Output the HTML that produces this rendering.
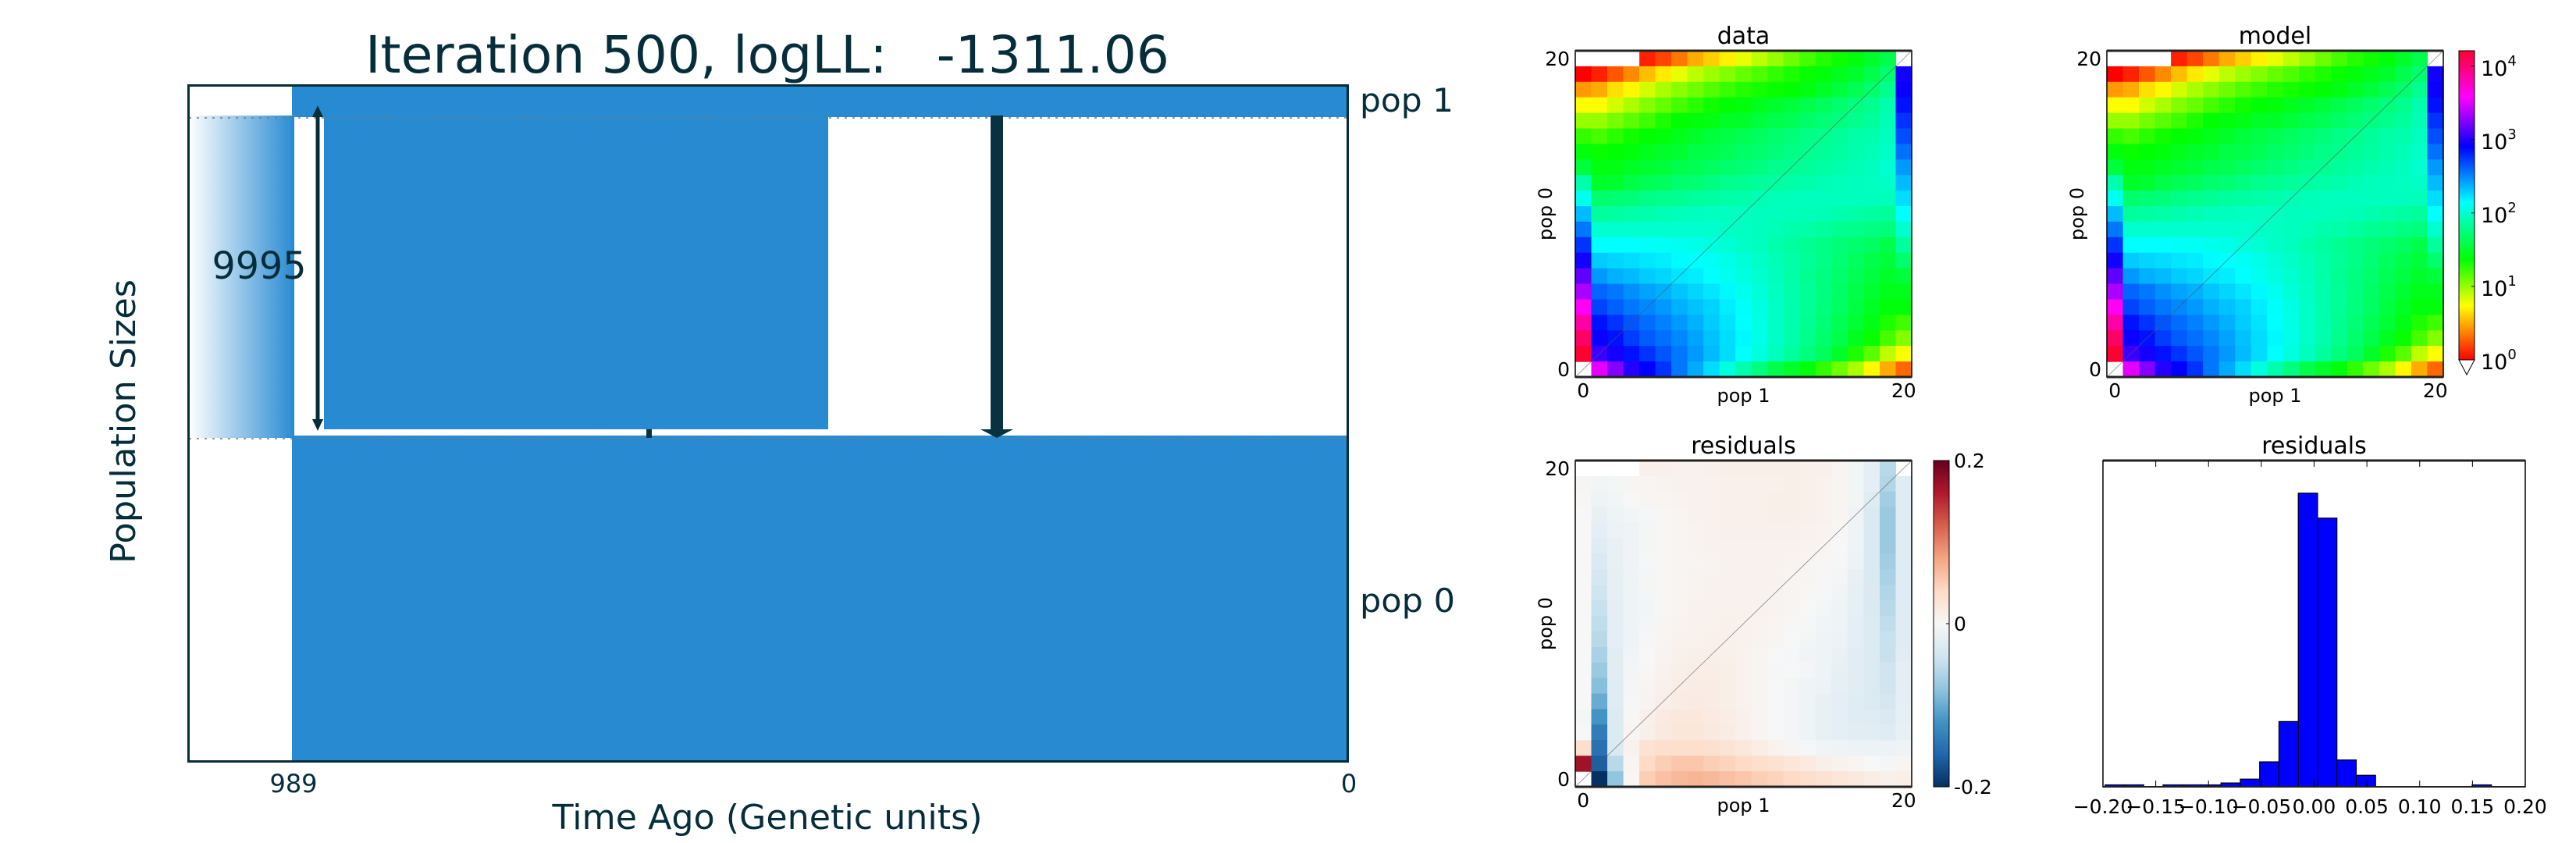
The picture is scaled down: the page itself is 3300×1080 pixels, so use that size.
<!DOCTYPE html>
<html><head><meta charset="utf-8">
<style>
html,body{margin:0;padding:0;background:#fff;}
svg{display:block;font-family:"DejaVu Sans","Liberation Sans",sans-serif;}
</style></head>
<body>
<svg id="fig" xmlns="http://www.w3.org/2000/svg" width="3300" height="1080" viewBox="0 0 3300 1080">
<defs>
<linearGradient id="ghost" x1="0" y1="0" x2="1" y2="0">
<stop offset="0" stop-color="#ffffff"/><stop offset="1" stop-color="#288bd2"/>
</linearGradient>
<linearGradient id="rainbow" x1="0" y1="1" x2="0" y2="0">
<stop offset="0" stop-color="#ff0000"/>
<stop offset="0.175" stop-color="#ffff00"/>
<stop offset="0.325" stop-color="#00ff00"/>
<stop offset="0.51" stop-color="#00ffff"/>
<stop offset="0.69" stop-color="#0000ff"/>
<stop offset="0.85" stop-color="#ff00ff"/>
<stop offset="1" stop-color="#ff0030"/>
</linearGradient>
<linearGradient id="rdbu" x1="0" y1="1" x2="0" y2="0">
<stop offset="0" stop-color="#053061"/><stop offset="0.1" stop-color="#2166ac"/>
<stop offset="0.2" stop-color="#4393c3"/><stop offset="0.3" stop-color="#92c5de"/>
<stop offset="0.4" stop-color="#d1e5f0"/><stop offset="0.5" stop-color="#f7f7f7"/>
<stop offset="0.6" stop-color="#fddbc7"/><stop offset="0.7" stop-color="#f4a582"/>
<stop offset="0.8" stop-color="#d6604d"/><stop offset="0.9" stop-color="#b2182b"/>
<stop offset="1" stop-color="#67001f"/>
</linearGradient>
</defs>

<!-- LEFT: demography -->
<g>
<text x="983" y="93" font-size="66" fill="#062d3a" text-anchor="middle" textLength="1030" lengthAdjust="spacingAndGlyphs" xml:space="preserve">Iteration 500, logLL:   -1311.06</text>
<rect x="242" y="148" width="135" height="413" fill="url(#ghost)"/>
<rect x="374" y="108" width="1354" height="42" fill="#288bd2"/>
<rect x="415" y="150" width="646" height="400" fill="#288bd2"/>
<rect x="374" y="558" width="1354" height="419" fill="#288bd2"/>
<rect x="374" y="108" width="3" height="450" fill="#288bd2"/>
<line x1="242" y1="151" x2="1728" y2="151" stroke="#777" stroke-width="1.5" stroke-dasharray="3,7"/>
<line x1="242" y1="562" x2="1728" y2="562" stroke="#777" stroke-width="1.5" stroke-dasharray="3,7"/>
<line x1="407" y1="148" x2="407" y2="540" stroke="#062d3a" stroke-width="5"/>
<polygon points="407,135 400,150 414,150" fill="#062d3a"/>
<polygon points="407,552 400,537 414,537" fill="#062d3a"/>
<text x="332" y="357" font-size="48" fill="#062d3a" text-anchor="middle" textLength="121" lengthAdjust="spacingAndGlyphs">9995</text>
<rect x="1269" y="148" width="16" height="404" fill="#08323f"/>
<polygon points="1256,550 1298,550 1277,561" fill="#08323f"/>
<rect x="828" y="550" width="7" height="11" fill="#08323f"/>
<rect x="241.5" y="109.5" width="1485" height="866" fill="none" stroke="#062d3a" stroke-width="3"/>
<text x="1742" y="143" font-size="42" fill="#062d3a" textLength="120" lengthAdjust="spacingAndGlyphs">pop 1</text>
<text x="1742" y="784" font-size="42" fill="#062d3a" textLength="122" lengthAdjust="spacingAndGlyphs">pop 0</text>
<text x="376" y="1015" font-size="32" fill="#062d3a" text-anchor="middle">989</text>
<text x="1728" y="1015" font-size="32" fill="#062d3a" text-anchor="middle">0</text>
<text x="983" y="1062" font-size="44" fill="#062d3a" text-anchor="middle" textLength="551" lengthAdjust="spacingAndGlyphs">Time Ago (Genetic units)</text>
<text x="0" y="0" font-size="44" fill="#062d3a" text-anchor="middle" textLength="364" lengthAdjust="spacingAndGlyphs" transform="translate(173,540) rotate(-90)">Population Sizes</text>
</g>

<g id="panels"></g>
</svg>

<script>
// ---------- data (log10 counts), rows top (pop0=20) to bottom (pop0=0), columns pop1=0..20 ----------
const N = null;
const dataLog = [
[N,N,N,N,0.1,0.2,0.35,0.5,0.6,0.7,0.8,0.9,1.0,1.1,1.2,1.28,1.33,1.4,1.5,1.6,N],
[0.0,0.1,0.25,0.4,0.55,0.68,0.8,0.9,0.98,1.05,1.12,1.18,1.25,1.3,1.35,1.4,1.45,1.5,1.6,1.7,2.95],
[0.45,0.5,0.65,0.72,0.85,0.95,1.03,1.1,1.17,1.23,1.28,1.32,1.35,1.38,1.42,1.48,1.55,1.62,1.7,1.8,2.93],
[0.75,0.75,0.85,0.95,1.05,1.12,1.2,1.27,1.33,1.38,1.4,1.45,1.5,1.55,1.6,1.65,1.7,1.75,1.8,1.9,2.85],
[1.0,1.0,1.08,1.15,1.22,1.3,1.37,1.4,1.42,1.48,1.5,1.55,1.6,1.63,1.68,1.72,1.76,1.8,1.85,1.92,2.75],
[1.25,1.2,1.27,1.33,1.38,1.4,1.45,1.5,1.55,1.58,1.62,1.66,1.7,1.74,1.78,1.8,1.84,1.88,1.9,1.95,2.67],
[1.4,1.35,1.38,1.4,1.45,1.5,1.52,1.58,1.6,1.63,1.68,1.7,1.74,1.78,1.8,1.83,1.86,1.9,1.93,1.98,2.57],
[1.55,1.42,1.43,1.48,1.52,1.55,1.6,1.62,1.66,1.7,1.73,1.76,1.8,1.82,1.84,1.87,1.9,1.92,1.95,2.0,2.45],
[1.9,1.5,1.52,1.58,1.62,1.65,1.7,1.72,1.76,1.8,1.82,1.84,1.86,1.88,1.9,1.92,1.94,1.95,1.96,1.98,2.35],
[2.1,1.7,1.72,1.74,1.78,1.8,1.82,1.85,1.87,1.88,1.9,1.92,1.93,1.94,1.95,1.95,1.95,1.95,1.95,1.94,2.25],
[2.35,1.85,1.87,1.88,1.9,1.92,1.94,1.95,1.96,1.96,1.96,1.95,1.95,1.94,1.93,1.92,1.9,1.88,1.86,1.84,2.15],
[2.55,2.0,2.0,2.0,2.0,2.0,2.0,2.0,2.0,1.98,1.96,1.95,1.93,1.9,1.88,1.85,1.82,1.8,1.77,1.75,2.0],
[2.75,2.15,2.15,2.15,2.13,2.12,2.1,2.08,2.05,2.02,1.98,1.95,1.9,1.86,1.82,1.78,1.74,1.7,1.66,1.6,1.85],
[2.95,2.3,2.27,2.25,2.22,2.2,2.16,2.15,2.12,2.08,2.03,1.98,1.93,1.88,1.83,1.78,1.72,1.66,1.6,1.55,1.7],
[3.15,2.45,2.38,2.35,2.3,2.27,2.22,2.2,2.15,2.1,2.05,2.0,1.95,1.88,1.82,1.76,1.7,1.63,1.57,1.5,1.55],
[3.35,2.6,2.55,2.48,2.42,2.38,2.32,2.27,2.22,2.17,2.1,2.03,1.96,1.9,1.83,1.76,1.68,1.6,1.52,1.45,1.45],
[3.6,2.7,2.62,2.55,2.5,2.45,2.38,2.33,2.28,2.2,2.13,2.06,1.98,1.9,1.83,1.75,1.67,1.57,1.48,1.4,1.4],
[3.85,2.85,2.75,2.65,2.58,2.52,2.45,2.38,2.3,2.23,2.15,2.07,1.98,1.9,1.82,1.73,1.63,1.53,1.43,1.3,1.22],
[4.05,2.93,2.85,2.72,2.63,2.57,2.5,2.42,2.33,2.25,2.17,2.08,1.98,1.9,1.8,1.7,1.6,1.47,1.35,1.2,1.05],
[4.2,3.05,2.95,2.85,2.75,2.65,2.55,2.45,2.35,2.25,2.15,2.05,1.95,1.85,1.75,1.65,1.5,1.3,1.15,0.9,0.75],
[N,3.5,3.25,3.0,2.9,2.75,2.55,2.4,2.25,2.05,1.9,1.75,1.6,1.5,1.4,1.25,1.1,0.95,0.72,0.5,0.3]
];
const modelLog = dataLog;
const residuals = [
[N,N,N,N,.01,.01,.008,.008,.01,.012,.012,.012,.012,.012,.01,.01,.005,-.005,-.02,-.055,N],
[.003,-.005,-.003,.003,.005,.006,.007,.008,.008,.01,.01,.01,.01,.012,.01,.008,.005,-.005,-.02,-.06,-.025],
[.002,-.01,-.005,0,.003,.005,.006,.008,.008,.01,.01,.01,.012,.012,.01,.008,.005,-.005,-.025,-.07,-.025],
[0,-.015,-.01,-.005,-.002,.002,.005,.007,.008,.01,.01,.01,.012,.012,.01,.008,.004,-.008,-.03,-.075,-.025],
[0,-.02,-.012,-.008,-.003,.002,.005,.006,.008,.01,.01,.01,.01,.01,.008,.006,.002,-.01,-.03,-.075,-.025],
[0,-.025,-.015,-.008,-.003,.002,.004,.006,.007,.008,.008,.008,.008,.008,.006,.004,0,-.01,-.03,-.075,-.025],
[0,-.03,-.015,-.008,-.002,.002,.004,.005,.006,.007,.008,.008,.007,.006,.004,.002,-.002,-.012,-.03,-.07,-.025],
[0,-.035,-.018,-.01,-.003,.002,.004,.006,.007,.008,.008,.008,.007,.005,.003,.001,-.004,-.015,-.03,-.065,-.025],
[0,-.04,-.018,-.01,-.004,.002,.005,.006,.008,.008,.008,.008,.006,.004,.002,-.002,-.006,-.018,-.03,-.06,-.025],
[0,-.045,-.02,-.01,-.005,.002,.005,.007,.008,.009,.009,.008,.006,.003,0,-.003,-.008,-.018,-.03,-.055,-.025],
[0,-.05,-.02,-.01,-.004,.003,.006,.008,.009,.01,.008,.006,.004,.002,-.002,-.006,-.01,-.02,-.028,-.05,-.025],
[0,-.055,-.02,-.008,-.002,.004,.007,.009,.01,.01,.008,.006,.004,0,-.003,-.008,-.012,-.02,-.028,-.045,-.025],
[0,-.065,-.022,-.006,0,.006,.01,.012,.012,.01,.008,.005,0,-.002,-.006,-.01,-.014,-.022,-.028,-.045,-.022],
[0,-.075,-.022,-.005,.002,.008,.012,.014,.014,.012,.008,.004,-.002,0,-.004,-.01,-.015,-.022,-.028,-.04,-.02],
[0,-.085,-.024,-.004,.004,.01,.014,.016,.016,.012,.008,.004,0,-.003,-.008,-.012,-.018,-.022,-.028,-.04,-.02],
[0,-.1,-.025,-.002,.006,.012,.016,.018,.016,.012,.008,.004,0,-.004,-.01,-.015,-.02,-.024,-.028,-.035,-.02],
[-.003,-.12,-.028,.002,.01,.018,.022,.022,.018,.014,.01,.004,0,-.004,-.01,-.015,-.02,-.024,-.025,-.03,-.018],
[0,-.14,-.028,.004,.012,.02,.024,.024,.02,.016,.01,.004,0,-.004,-.01,-.015,-.02,-.022,-.022,-.025,-.015],
[.035,-.15,-.03,.008,.03,.035,.035,.035,.032,.028,.022,.015,.008,.003,-.002,-.006,-.01,-.012,-.012,-.012,-.008],
[.17,-.165,-.055,.005,.04,.05,.055,.055,.05,.045,.04,.035,.03,.025,.018,.012,.008,.004,0,-.004,.004],
[N,-.2,-.08,.002,.05,.06,.065,.068,.065,.06,.055,.05,.045,.04,.035,.03,.025,.02,.015,.01,.012]
];
// histogram of residuals
const histStart = -0.198;
const histBinWidth = 0.0183;
const histCounts = [1,1,0,1,1,1,2,4,13,34,153,140,14,6,0,0,0,0,0,1,0];
const histTicks = [-0.2,-0.15,-0.1,-0.05,0,0.05,0.1,0.15,0.2];
const histTickLabels = ["\u22120.20","\u22120.15","\u22120.10","\u22120.05","0.00","0.05","0.10","0.15","0.20"];
const cbarTicks = [0,1,2,3,4];
const resTicks = [-0.2,0,0.2];
const resTickLabels = ["-0.2","0","0.2"];

// ---------- helpers ----------
const NS = "http://www.w3.org/2000/svg";
const root = document.getElementById('panels');
function mk(tag, attrs, parent){ const e=document.createElementNS(NS,tag); for(const k in attrs) e.setAttribute(k,attrs[k]); (parent||root).appendChild(e); return e; }
function lerpStops(stops, v){
  if(v<=stops[0][0]) return stops[0][1];
  for(let i=1;i<stops.length;i++){
    if(v<=stops[i][0]){ const a=stops[i-1],b=stops[i]; const t=(v-a[0])/(b[0]-a[0]);
      const c=a[1].map((x,k)=>Math.round(x+(b[1][k]-x)*t)); return 'rgb('+c.join(',')+')'; }
  }
  return stops[stops.length-1][1];
}
function toRgb(s){ return s.startsWith('rgb')?s:s; }
const rainbowStops = [[0,[255,0,0]],[0.74,[255,255,0]],[1.37,[0,255,0]],[2.15,[0,255,255]],[2.9,[0,0,255]],[3.57,[255,0,255]],[4.21,[255,0,48]]];
const rdbuStops = [[-0.2,[5,48,97]],[-0.16,[33,102,172]],[-0.12,[67,147,195]],[-0.08,[146,197,222]],[-0.04,[209,229,240]],[0,[247,247,247]],[0.04,[253,219,199]],[0.08,[244,165,130]],[0.12,[214,96,77]],[0.16,[178,24,43]],[0.2,[103,0,31]]];
function rainbowColor(v){ const c=lerpStops(rainbowStops,v); return Array.isArray(c)?'rgb('+c.join(',')+')':c; }
function rdbuColor(v){ const c=lerpStops(rdbuStops,v); return Array.isArray(c)?'rgb('+c.join(',')+')':c; }

function text(x,y,str,size,anchor,extra){ const t=mk('text',Object.assign({x:x,y:y,'font-size':size,'text-anchor':anchor||'start',fill:'#000'},extra||{})); t.textContent=str; return t; }

function heatmap(name, x0, y0, w, h, matrix, colorFn, title, titleY){
  const g = mk('g',{});
  
  
  const n = matrix.length;
  const xs = c => x0 + c*w/n;           // column -> x
  const ys = r => y0 + r*h/n;           // row (from top) -> y
  for(let r=0;r<n;r++){ for(let c=0;c<n;c++){
    const v = matrix[r][c]; if(v===null) continue;
    const cell = mk('rect',{x:xs(c),y:ys(r),width:w/n+0.6,height:h/n+0.6,fill:colorFn(v)},g);
    
    
  }}
  const diag = mk('line',{x1:x0,y1:y0+h,x2:x0+w,y2:y0,stroke:'#555','stroke-width':0.8,'stroke-opacity':0.7},g);
  
  
  const fr = mk('rect',{x:x0,y:y0,width:w,height:h,fill:'none',stroke:'#000','stroke-width':1.5},g);
  
  
  mk('line',{x1:x0,y1:y0,x2:x0+w,y2:y0,stroke:'#222','stroke-width':3},g);
  mk('line',{x1:x0,y1:y0+h,x2:x0+w,y2:y0+h,stroke:'#222','stroke-width':3},g);
  const tt = text(x0+w/2,titleY,title,30,'middle');  
  const t20 = text(x0-7,y0+h/(2*n)+9,'20',25,'end');  
  const t0 = text(x0-7,y0+h-h/(2*n)+9,'0',25,'end');  
  const tx0 = text(x0+w/(2*n),y0+h+26,'0',25,'middle');  
  const tx20 = text(x0+w-w/(2*n),y0+h+26,'20',25,'middle');  
  const xl = text(x0+w/2,y0+h+32,'pop 1',24,'middle');  
  const yl = text(0,0,'pop 0',24,'middle',{transform:'translate('+(x0-30)+','+(y0+h/2)+') rotate(-90)'});
  
  
}

const HX1=2018, HX2=2699, HW=431, HT=65, HH=418, RT=590, RH=418;
heatmap('data-heatmap', HX1, HT, HW, HH, dataLog, rainbowColor, 'data', 56);
heatmap('model-heatmap', HX2, HT, HW, HH, modelLog, rainbowColor, 'model', 56);
heatmap('residuals-heatmap', HX1, RT, HW, RH, residuals, rdbuColor, 'residuals', 581);

// log colorbar
(function(){
  const x=3150, w=20, yTop=65, yBot=461, vmax=4.21;
  const ys = v => yBot - v/vmax*(yBot-yTop);
  const cb = mk('rect',{x:x,y:yTop,width:w,height:yBot-yTop,fill:'url(#rainbow)',stroke:'#000','stroke-width':1});
  
  
  const tri = mk('polygon',{points:x+','+yBot+' '+(x+w)+','+yBot+' '+(x+w/2)+',480',fill:'#fff',stroke:'#000','stroke-width':1});
  
  
  cbarTicks.forEach(v=>{
    const y=ys(v);
    mk('line',{x1:x+w-4,y1:y,x2:x+w,y2:y,stroke:'#000','stroke-width':1});
    const t = text(x+28,y+12,'10',27,'start');
    
    
    const s = mk('tspan',{dy:-13,'font-size':18}, t); s.textContent=String(v);
  });
})();

// residual colorbar
(function(){
  const x=2477, w=20, yTop=RT, yBot=RT+RH;
  const ys = v => yBot - (v+0.2)/0.4*(yBot-yTop);
  const cb = mk('rect',{x:x,y:yTop,width:w,height:yBot-yTop,fill:'url(#rdbu)',stroke:'#000','stroke-width':1});
  
  
  resTicks.forEach((v,i)=>{
    const y=ys(v);
    mk('line',{x1:x+w-4,y1:y,x2:x+w,y2:y,stroke:'#000','stroke-width':1});
    const t = text(x+w+6,y+9,resTickLabels[i],25,'start');
    
    
  });
})();

// histogram
(function(){
  const x0=2694, x1=3235, yTop=RT, yBot=RT+RH, ymax=170;
  const xs = v => x0 + (v+0.2)/0.4*(x1-x0);
  const ysc = c => yBot - c/ymax*(yBot-yTop);
  const g = mk('g',{});
  
  
  histCounts.forEach((c,i)=>{
    if(c<=0) return;
    const a=histStart+i*histBinWidth, b=a+histBinWidth;
    const r = mk('rect',{x:xs(a),y:ysc(c),width:xs(b)-xs(a),height:yBot-ysc(c),fill:'#0000ff',stroke:'#000','stroke-width':1.2},g);
    
    
  });
  const fr = mk('rect',{x:x0,y:yTop,width:x1-x0,height:yBot-yTop,fill:'none',stroke:'#000','stroke-width':1.5},g);
  
  
  mk('line',{x1:x0,y1:yTop,x2:x1,y2:yTop,stroke:'#222','stroke-width':3},g);
  mk('line',{x1:x0,y1:yBot,x2:x1,y2:yBot,stroke:'#222','stroke-width':2},g);
  histTicks.forEach((v,i)=>{
    const x=xs(v);
    mk('line',{x1:x,y1:yTop,x2:x,y2:yTop+8,stroke:'#000','stroke-width':1},g);
    mk('line',{x1:x,y1:yBot,x2:x,y2:yBot-8,stroke:'#000','stroke-width':1},g);
    const t = text(x,yBot+34,histTickLabels[i],25,'middle');
    
    
  });
  const tt = text((x0+x1)/2,581,'residuals',30,'middle');
  
  
})();
</script>
</body></html>
